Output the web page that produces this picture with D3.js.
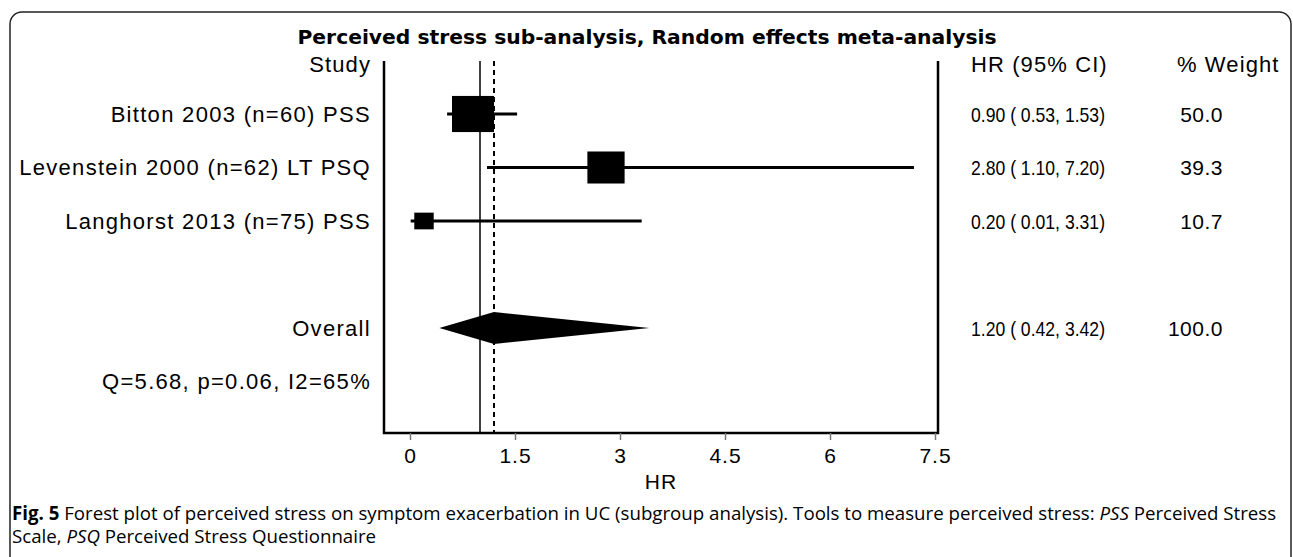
<!DOCTYPE html>
<html lang="en">
<head>
    <script src="https://d3js.org/d3.v7.min.js"></script>
    <title>Perceived stress forest plot</title>
    <style>
        body { margin: 0; background: #fff; }
        text { font-family: "Liberation Sans", Arial, sans-serif; fill: #000; }
    </style>
</head>
<body>
    <svg width="1293" height="557"></svg>
    <script>

        // study rows
        var studies = ["Bitton 2003 (n=60) PSS", "Levenstein 2000 (n=62) LT PSQ", "Langhorst 2013 (n=75) PSS"];
        var hr      = [0.90, 2.80, 0.20];
        var ciLow   = [0.53, 1.10, 0.01];
        var ciHigh  = [1.53, 7.20, 3.31];
        var weight  = [50.0, 39.3, 10.7];

        // pooled estimate
        var overallLabel = "Overall";
        var overallHR = [1.20, 0.42, 3.42];   // estimate, low, high
        var overallWeight = 100.0;
        var heterogeneity = "Q=5.68, p=0.06, I2=65%";

        var xTicks = [0, 1.5, 3, 4.5, 6, 7.5];
        var nullValue = 1;

        var svg = d3.select("svg");

        var fmt = d3.format(".2f");
        function ciText(e, l, h) { return fmt(e) + " ( " + fmt(l) + ", " + fmt(h) + ")"; }

        // figure frame (bottom edge falls below the picture)
        svg.append("rect")
            .attr("x", 10).attr("y", 12)
            .attr("width", 1281).attr("height", 600)
            .attr("rx", 12)
            .style("fill", "none")
            .style("stroke", "#222")
            .style("stroke-width", 1.5);

        var x = d3.scaleLinear().domain([0, 7.5]).range([410, 935]);
        var y = d3.scaleLinear().domain([0, 5]).range([114, 381.5]);   // row index -> centre
        var boxW = d3.scaleSqrt().domain([0, 50]).range([0, 42]);

        var plotL = 384, plotR = 938, plotT = 61, plotB = 433;

        svg.append("text")
            .attr("x", 647).attr("y", 44)
            .attr("text-anchor", "middle")
            .attr("textLength", 699)
            .attr("lengthAdjust", "spacingAndGlyphs")
            .style("font-family", '"DejaVu Sans", sans-serif')
            .style("font-weight", "bold")
            .style("font-size", "19px")
            .text("Perceived stress sub-analysis, Random effects meta-analysis");

        // plot box: left, bottom, right
        svg.append("path")
            .attr("d", "M" + plotL + "," + plotT + "V" + plotB + "H" + plotR + "V" + plotT)
            .style("fill", "none")
            .style("stroke", "#000")
            .style("stroke-width", 2.5);

        // no effect line and pooled estimate line
        svg.append("line")
            .attr("x1", x(nullValue)).attr("x2", x(nullValue))
            .attr("y1", plotT).attr("y2", plotB)
            .style("stroke", "#000").style("stroke-width", 1.5);

        svg.append("line")
            .attr("x1", x(overallHR[0])).attr("x2", x(overallHR[0]))
            .attr("y1", plotT).attr("y2", plotB)
            .style("stroke", "#000").style("stroke-width", 2)
            .style("stroke-dasharray", "5,4");

        // x axis
        var axis = svg.append("g")
            .attr("transform", "translate(0," + plotB + ")")
            .call(d3.axisBottom(x).tickValues(xTicks).tickSize(7).tickSizeOuter(0).tickPadding(8)
                    .tickFormat(function (d) { return String(d); }));
        axis.select(".domain").remove();
        axis.selectAll(".tick line").style("stroke", "#777").style("stroke-width", 1.5);
        axis.selectAll(".tick text")
            .style("font-family", '"Liberation Sans", Arial, sans-serif')
            .style("font-size", "21px")
            .style("letter-spacing", "1px");

        svg.append("text")
            .attr("x", (plotL + plotR) / 2).attr("y", 489)
            .attr("text-anchor", "middle")
            .style("font-size", "21px")
            .style("letter-spacing", "1px")
            .text("HR");

        // column headers
        var heads = [["Study", 371, "end"], ["HR (95% CI)", 971, "start"], ["% Weight", 1177, "start"]];
        svg.append("g").selectAll("text")
            .data(heads).enter().append("text")
            .attr("x", function (d) { return d[1]; })
            .attr("y", 72)
            .attr("text-anchor", function (d) { return d[2]; })
            .style("font-size", "22px")
            .style("letter-spacing", "1.1px")
            .text(function (d) { return d[0]; });

        var rows = d3.range(studies.length);

        // CI lines
        svg.append("g").selectAll("line")
            .data(rows).enter().append("line")
            .attr("x1", function (i) { return x(ciLow[i]); })
            .attr("x2", function (i) { return x(ciHigh[i]); })
            .attr("y1", function (i) { return y(i); })
            .attr("y2", function (i) { return y(i); })
            .style("stroke", "#000").style("stroke-width", 3);

        // weight boxes
        svg.append("g").selectAll("rect")
            .data(rows).enter().append("rect")
            .attr("x", function (i) { return x(hr[i]) - boxW(weight[i]) / 2; })
            .attr("y", function (i) { return y(i) - boxW(weight[i]) * 0.43; })
            .attr("width", function (i) { return boxW(weight[i]); })
            .attr("height", function (i) { return boxW(weight[i]) * 0.86; })
            .style("fill", "#000");

        // pooled diamond
        var yo = y(4);
        svg.append("path")
            .attr("d", "M" + x(overallHR[1]) + "," + yo +
                       "L" + x(overallHR[0]) + "," + (yo - 16) +
                       "L" + x(overallHR[2]) + "," + yo +
                       "L" + x(overallHR[0]) + "," + (yo + 16) + "Z")
            .style("fill", "#000");

        // left labels
        svg.append("g").selectAll("text")
            .data(studies.concat([overallLabel, heterogeneity])).enter().append("text")
            .attr("x", 371)
            .attr("y", function (d, i) { return i < studies.length ? y(i) : y(i + 1); })
            .attr("dy", "0.36em")
            .attr("text-anchor", "end")
            .style("font-size", "22px")
            .style("letter-spacing", "1.3px")
            .text(function (d) { return d; });

        // right columns
        var ciRows = rows.map(function (i) { return [ciText(hr[i], ciLow[i], ciHigh[i]), weight[i], y(i)]; });
        ciRows.push([ciText(overallHR[0], overallHR[1], overallHR[2]), overallWeight, y(4)]);

        svg.append("g").selectAll("text")
            .data(ciRows).enter().append("text")
            .attr("x", 971)
            .attr("y", function (d) { return d[2]; })
            .attr("dy", "0.36em")
            .attr("textLength", 134)
            .attr("lengthAdjust", "spacingAndGlyphs")
            .style("font-size", "21px")
            .style("white-space", "pre")
            .text(function (d) { return d[0]; });

        svg.append("g").selectAll("text")
            .data(ciRows).enter().append("text")
            .attr("x", 1223)
            .attr("y", function (d) { return d[2]; })
            .attr("dy", "0.36em")
            .attr("text-anchor", "end")
            .style("font-size", "21px")
            .style("letter-spacing", "0.5px")
            .text(function (d) { return d3.format(".1f")(d[1]); });

        // caption
        var cap = svg.append("g");
        var l1 = cap.append("text").attr("x", 12).attr("y", 520).style("font-size", "17px");
        l1.append("tspan").style("font-weight", "bold").style("font-family", '"Open Sans", sans-serif').text("Fig. 5");
        l1.append("tspan").style("font-family", '"Open Sans", sans-serif')
            .text(" Forest plot of perceived stress on symptom exacerbation in UC (subgroup analysis). Tools to measure perceived stress: ");
        l1.append("tspan").style("font-style", "italic").style("font-family", '"Open Sans", sans-serif').text("PSS");
        l1.append("tspan").style("font-family", '"Open Sans", sans-serif').text(" Perceived Stress");

        var l2 = cap.append("text").attr("x", 12).attr("y", 543).style("font-size", "17px");
        l2.append("tspan").style("font-family", '"Open Sans", sans-serif').text("Scale, ");
        l2.append("tspan").style("font-style", "italic").style("font-family", '"Open Sans", sans-serif').text("PSQ");
        l2.append("tspan").style("font-family", '"Open Sans", sans-serif').text(" Perceived Stress Questionnaire");

        // size caption so the first line spans the frame like the original
        var w = l1.node().getComputedTextLength();
        var fs = 17 * 1265 / w;
        l1.style("font-size", fs + "px");
        l2.style("font-size", fs + "px");

    </script>
</body>
</html>
